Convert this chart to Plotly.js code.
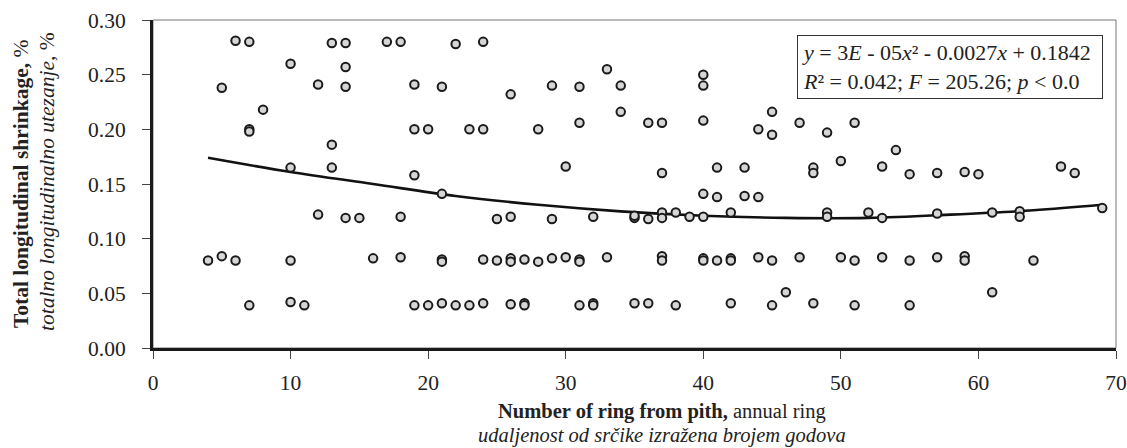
<!DOCTYPE html>
<html>
<head>
<meta charset="utf-8">
<script src="https://cdn.plot.ly/plotly-3.0.1.min.js"></script>
<style>html,body{margin:0;padding:0;background:#fff;}#chart{width:1127px;height:448px;}</style>
</head>
<body>
<div id="chart"></div>
<script>
// Observations: ring number from pith and total longitudinal shrinkage (%)
const ringX = [
  6,7,13,14,17,18,22,24,
  10,14,33,40,
  5,12,14,19,21,26,29,31,34,40,
  8,34,45,
  7,7,19,20,23,24,28,31,36,37,40,44,45,47,49,51,
  13,54,
  10,13,30,41,43,48,50,53,66,
  19,37,48,55,57,59,60,67,
  21,40,41,43,44,
  12,14,15,18,25,26,29,32,35,35,36,37,37,38,39,40,42,49,49,52,53,57,61,63,63,69,
  4,5,6,10,16,18,21,21,24,25,26,26,27,28,29,30,31,31,33,37,37,40,40,41,42,42,44,45,47,50,51,53,55,57,59,59,64,
  7,10,11,19,20,21,22,23,24,26,27,27,31,32,32,35,36,38,42,45,46,48,51,55,61
];
const shrinkY = [
  0.281,0.280,0.279,0.279,0.280,0.280,0.278,0.280,
  0.260,0.257,0.255,0.250,
  0.238,0.241,0.239,0.241,0.239,0.232,0.240,0.239,0.240,0.240,
  0.218,0.216,0.216,
  0.200,0.198,0.200,0.200,0.200,0.200,0.200,0.206,0.206,0.206,0.208,0.200,0.195,0.206,0.197,0.206,
  0.186,0.181,
  0.165,0.165,0.166,0.165,0.165,0.165,0.171,0.166,0.166,
  0.158,0.160,0.160,0.159,0.160,0.161,0.159,0.160,
  0.141,0.141,0.138,0.139,0.138,
  0.122,0.119,0.119,0.120,0.118,0.120,0.118,0.120,0.119,0.121,0.118,0.124,0.119,0.124,0.120,0.120,0.124,0.124,0.120,0.124,0.119,0.123,0.124,0.125,0.120,0.128,
  0.080,0.084,0.080,0.080,0.082,0.083,0.081,0.079,0.081,0.080,0.082,0.079,0.081,0.079,0.082,0.083,0.081,0.079,0.083,0.084,0.080,0.082,0.080,0.080,0.082,0.080,0.083,0.080,0.083,0.083,0.080,0.083,0.080,0.083,0.084,0.080,0.080,
  0.039,0.042,0.039,0.039,0.039,0.041,0.039,0.039,0.041,0.040,0.041,0.039,0.039,0.041,0.039,0.041,0.041,0.039,0.041,0.039,0.051,0.041,0.039,0.039,0.051
];
// Polynomial trend line
const trendX = [4,10,16,22,28,34,40,46,52,58,64,69];
const trendY = [0.174,0.161,0.150,0.139,0.131,0.125,0.121,0.119,0.119,0.122,0.126,0.131];

const xTicks = [0,10,20,30,40,50,60,70];
const yTicks = [0,0.05,0.10,0.15,0.20,0.25,0.30];

const serif = '"Liberation Serif", "Times New Roman", serif';
const fs = 21.5;

const traces = [
  {
    x: trendX, y: trendY, type: 'scatter', mode: 'lines',
    line: {color: '#111', width: 2.6, shape: 'spline', smoothing: 1},
    hoverinfo: 'skip', cliponaxis: false
  },
  {
    x: ringX, y: shrinkY, type: 'scatter', mode: 'markers',
    marker: {size: 8.5, color: '#d6d6d6', line: {color: '#1a1a1a', width: 2}},
    cliponaxis: false
  }
];

const layout = {
  width: 1127, height: 448,
  margin: {l: 153, r: 11, t: 20, b: 100},
  paper_bgcolor: '#fff', plot_bgcolor: '#fff',
  showlegend: false,
  font: {family: serif, color: '#222'},
  xaxis: {
    range: [0, 70], tickvals: xTicks, ticktext: xTicks.map(String),
    showgrid: false, zeroline: false,
    showline: true, linecolor: '#1a1a1a', linewidth: 3,
    ticks: 'outside', ticklen: 8, tickwidth: 1, tickcolor: '#444',
    tickfont: {family: serif, size: fs, color: '#222'},
    ticklabelstandoff: 5
  },
  yaxis: {
    range: [0, 0.30], tickvals: yTicks, ticktext: yTicks.map(v => v.toFixed(2)),
    showgrid: false, zeroline: false,
    showline: true, linecolor: '#1a1a1a', linewidth: 3,
    ticks: 'outside', ticklen: 8, tickwidth: 1, tickcolor: '#444',
    tickfont: {family: serif, size: fs, color: '#222'},
    ticklabelstandoff: 12
  },
  shapes: [
    {type: 'rect', xref: 'paper', yref: 'paper', x0: 0, x1: 1, y0: 0, y1: 1,
     line: {color: '#777', width: 1}, layer: 'below'}
  ],
  annotations: [
    {xref: 'paper', yref: 'paper', x: 0.5, xshift: 27, y: 0, yshift: -63, xanchor: 'center', yanchor: 'middle',
     showarrow: false, font: {family: serif, size: 20.5, color: '#222'},
     text: '<b>Number of ring from pith,</b> annual ring'},
    {xref: 'paper', yref: 'paper', x: 0.5, xshift: 27, y: 0, yshift: -87, xanchor: 'center', yanchor: 'middle',
     showarrow: false, font: {family: serif, size: 20.5, color: '#222'},
     text: '<i>udaljenost od srčike izražena brojem godova</i>'},
    {xref: 'paper', yref: 'paper', x: 0, xshift: -132, y: 0.5, xanchor: 'center', yanchor: 'middle',
     textangle: -90, showarrow: false, font: {family: serif, size: fs, color: '#222'},
     text: '<b>Total longitudinal shrinkage,</b> %'},
    {xref: 'paper', yref: 'paper', x: 0, xshift: -106, y: 0.5, yshift: 2, xanchor: 'center', yanchor: 'middle',
     textangle: -90, showarrow: false, font: {family: serif, size: fs, color: '#222'},
     text: '<i>totalno longitudinalno utezanje,</i> %'},
    {xref: 'paper', yref: 'paper', x: 0.669, y: 0.954, xanchor: 'left', yanchor: 'top',
     showarrow: false, align: 'left', bgcolor: '#fff', bordercolor: '#333', borderwidth: 1, borderpad: 4,
     width: 296, height: 54,
     font: {family: serif, size: 22, color: '#222'},
     text: '<i>y</i> = 3<i>E</i> - 05<i>x</i>² - 0.0027<i>x</i> + 0.1842<br><i>R</i>² = 0.042; <i>F</i> = 205.26; <i>p</i> < 0.0'}
  ]
};

Plotly.newPlot('chart', traces, layout, {staticPlot: true, displayModeBar: false});
</script>
</body>
</html>
